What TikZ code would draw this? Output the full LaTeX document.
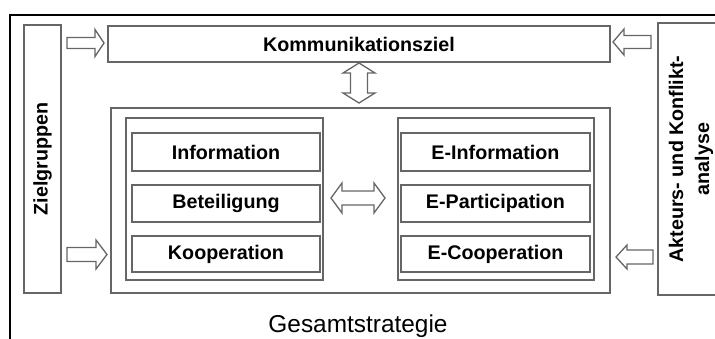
\documentclass[tikz,border=0pt]{standalone}
\usepackage{fontspec}
\setmainfont{Liberation Sans}
\tikzset{
  kasten/.style={draw=black!60, line width=1.4pt, inner sep=0pt, align=center,
    font=\fontsize{19.7}{26}\selectfont\bfseries},
  gruppe/.style={draw=black!60, line width=1.4pt, inner sep=0pt},
  pfeil/.style={draw=black!60, line width=1.3pt, fill=white, line join=miter}
}
% Blockpfeil: Ende, Spitzenansatz, Spitze, y, halbe Schaftbreite, halbe Spitzenbreite
\newcommand{\blockpfeil}[6]{%
  \draw[pfeil] (#1,#4-#5) -- (#2,#4-#5) -- (#2,#4-#6) -- (#3,#4)
    -- (#2,#4+#6) -- (#2,#4+#5) -- (#1,#4+#5) -- cycle;}
\begin{document}
\begin{tikzpicture}[x=1pt, y=-1pt]
\useasboundingbox (0,0) rectangle (715,338);
\draw[line width=1.3pt] (10,15) rectangle (740,360);
\node at (358,326) (gesamt) {\fontsize{24.4}{28}\selectfont Gesamtstrategie};
\node[kasten, rotate=90, minimum width=268pt, minimum height=37pt] (ziel) at (42.5,159) {Zielgruppen};
\node[kasten, rotate=90, minimum width=272pt, minimum height=66pt] (akteure) at (691,159) {Akteurs- und Konflikt-\\analyse};
\node[kasten, minimum width=502pt, minimum height=36pt] (komm) at (359,44) {Kommunikationsziel};
\node[gruppe, minimum width=499pt, minimum height=185pt] (strat) at (360.5,200.5) {};
\node[gruppe, minimum width=197pt, minimum height=162pt] (links) at (224.5,199) {};
\node[gruppe, minimum width=196pt, minimum height=162pt] (rechts) at (496,199) {};
\node[kasten, minimum width=188pt, minimum height=38pt] (info) at (226,152) {Information};
\node[kasten, minimum width=188pt, minimum height=37pt] (beteil) at (226,203.5) {Beteiligung};
\node[kasten, minimum width=188pt, minimum height=36pt] (koop) at (226,254) {Kooperation};
\node[kasten, minimum width=189pt, minimum height=38pt] (einfo) at (495.5,152) {E-Information};
\node[kasten, minimum width=189pt, minimum height=37pt] (epart) at (495.5,203.5) {E-Participation};
\node[kasten, minimum width=189pt, minimum height=36pt] (ecoop) at (495.5,254) {E-Cooperation};
% Pfeile
\blockpfeil{67}{95}{104}{43}{5.5}{13.5}
\blockpfeil{67}{96}{107}{254.5}{7}{14.5}
\blockpfeil{651}{624}{613}{42}{6.5}{13}
\blockpfeil{653}{627}{616}{257}{7}{12}
\draw[pfeil] (359,63) -- (375,73) -- (367.5,73) -- (367.5,93) -- (375,93) -- (359,103)
  -- (343,93) -- (350.5,93) -- (350.5,73) -- (343,73) -- cycle;
\draw[pfeil] (331,198) -- (342,183) -- (342,191) -- (374,191) -- (374,183) -- (385,198)
  -- (374,213) -- (374,205) -- (342,205) -- (342,213) -- cycle;
\end{tikzpicture}
\end{document}
